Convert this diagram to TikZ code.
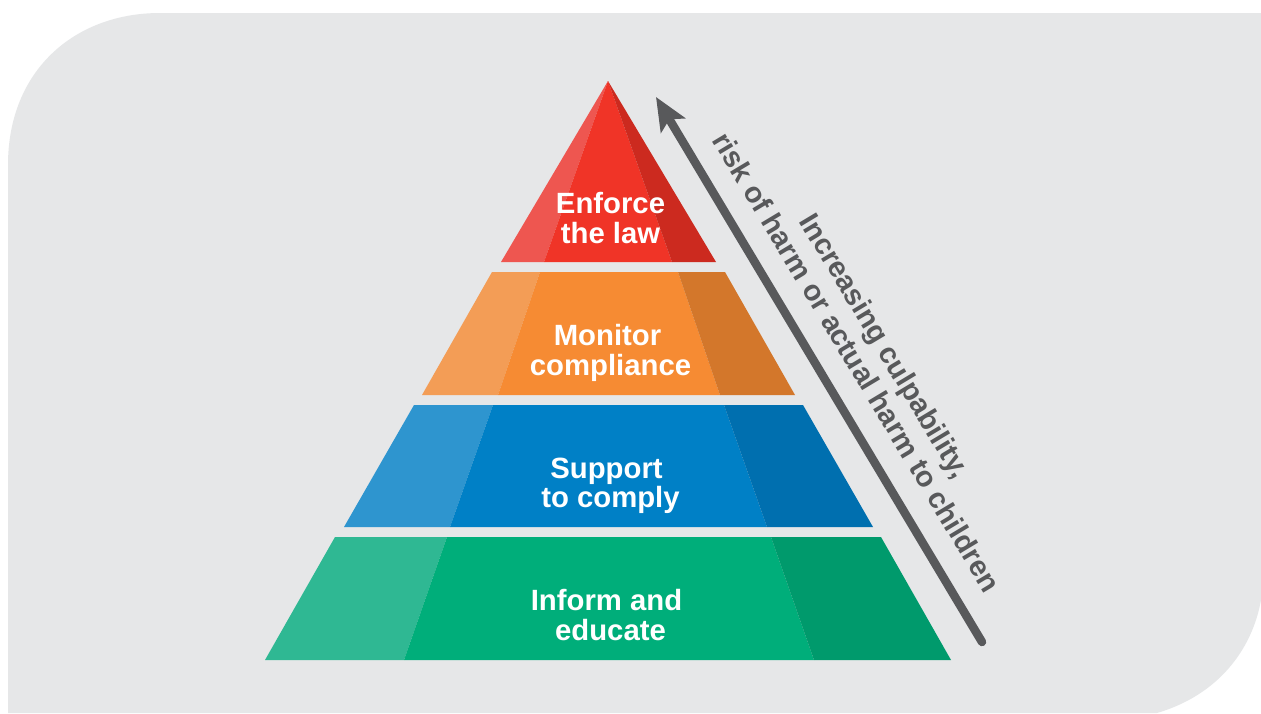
\documentclass[tikz,border=0pt]{standalone}
\usepackage{fontspec}
\setmainfont{Liberation Sans}
\usetikzlibrary{arrows.meta}
\definecolor{bgc}{HTML}{E6E7E8}
\definecolor{greyc}{HTML}{58595B}
\definecolor{rm}{HTML}{F03427}\definecolor{rl}{HTML}{EE5650}\definecolor{rr}{HTML}{CC2A1F}
\definecolor{om}{HTML}{F68B33}\definecolor{ol}{HTML}{F39D56}\definecolor{or}{HTML}{D3772B}
\definecolor{bm}{HTML}{0080C6}\definecolor{bl}{HTML}{2E95CF}\definecolor{br}{HTML}{006FAF}
\definecolor{gm}{HTML}{00AE7A}\definecolor{gl}{HTML}{2FB893}\definecolor{gr}{HTML}{009A6C}
\tikzset{
  tierlabel/.style={text=white,align=center,font=\fontsize{29.3}{29.5}\selectfont\bfseries,inner sep=0pt},
  sidelabel/.style={text=greyc,font=\fontsize{29}{30}\selectfont\bfseries,inner sep=0pt,rotate=-59},
  riskarrow/.style={draw=greyc,line width=8.5pt,line cap=round,-{Stealth[length=33pt,width=28pt,inset=7pt]}}
}
\begin{document}
\begin{tikzpicture}[x=1pt,y=-1pt]
\useasboundingbox (0,0) rectangle (1261,713);
\fill[white] (0,0) rectangle (1261,713);
\fill[bgc] (8,713) -- (8,165) .. controls (8,70) and (75,13) .. (160,13) -- (1261,13) -- (1261,600)
  .. controls (1252,650) and (1218,695) .. (1157,713) -- cycle;
% red
\fill[rl] (608,81) -- (501,262) -- (544,262) -- cycle;
\fill[rm] (608,81) -- (544,262) -- (672,262) -- cycle;
\fill[rr] (608,81) -- (672,262) -- (716,262) -- cycle;
% orange
\fill[ol] (492,272) -- (422,395) -- (498,395) -- (540,272) -- cycle;
\fill[om] (540,272) -- (498,395) -- (720,395) -- (678,272) -- cycle;
\fill[or] (678,272) -- (720,395) -- (795,395) -- (725,272) -- cycle;
% blue
\fill[bl] (414,405) -- (344,527) -- (450,527) -- (493,405) -- cycle;
\fill[bm] (493,405) -- (450,527) -- (767,527) -- (724,405) -- cycle;
\fill[br] (724,405) -- (767,527) -- (873,527) -- (803,405) -- cycle;
% green
\fill[gl] (335,537) -- (265,660) -- (404,660) -- (447,537) -- cycle;
\fill[gm] (447,537) -- (404,660) -- (814,660) -- (771,537) -- cycle;
\fill[gr] (771,537) -- (814,660) -- (951,660) -- (881,537) -- cycle;
% labels
\node[tierlabel] (enforce) at (610.5,218) {Enforce\\the law};
\node[tierlabel] (monitor) at (610.5,353) {Monitor\hspace*{6pt}\\compliance};
\node[tierlabel] (support) at (610.5,486) {Support\hspace*{8pt}\\to comply};
\node[tierlabel] (inform) at (606.5,615) {Inform and\\\hspace*{8pt}educate};
% arrow
\coordinate (tail) at (982,642);
\coordinate (tip) at (656,97);
\draw[riskarrow] (tail) -- (tip);
\node[sidelabel] (line1) at (883,347) {Increasing culpability,};
\node[sidelabel] (line2) at (857,362) {risk of harm or actual harm to children};
\end{tikzpicture}
\end{document}
